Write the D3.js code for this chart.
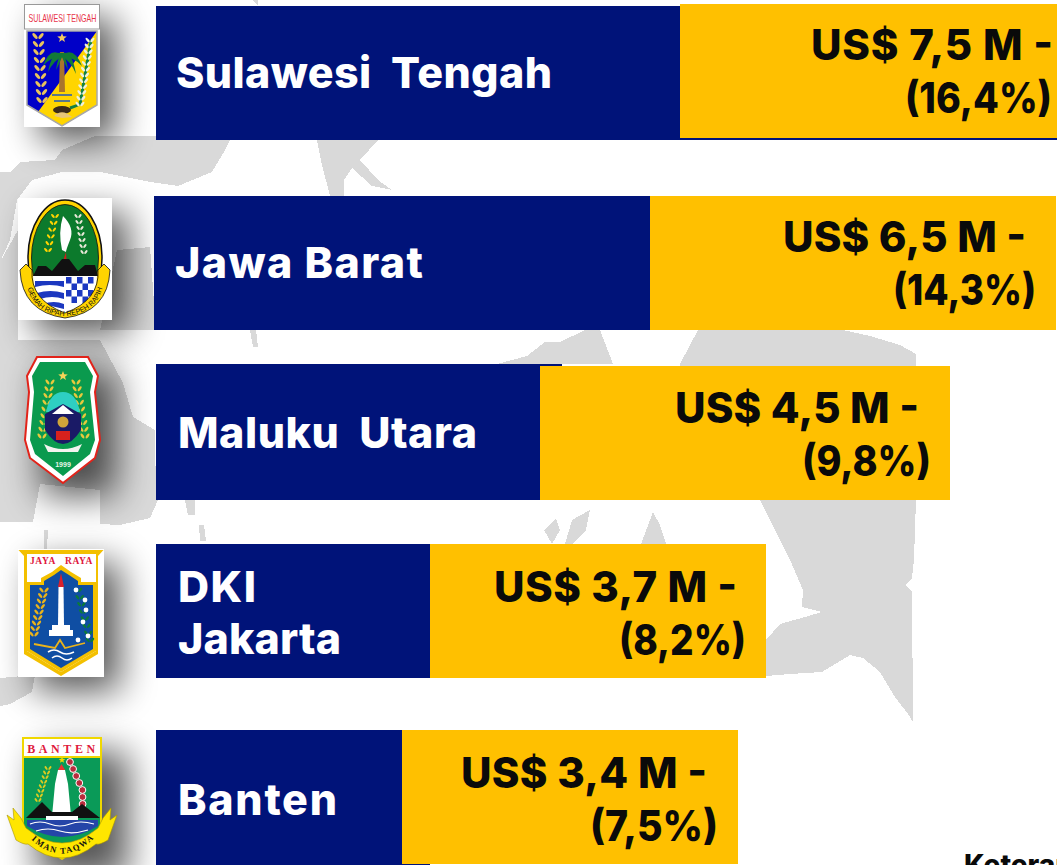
<!DOCTYPE html>
<html><head><meta charset="utf-8">
<script src="https://cdn.jsdelivr.net/npm/d3@7/dist/d3.min.js"></script>
<style>html,body{margin:0;padding:0;background:#fff;overflow:hidden}svg{display:block}
text{font-family:Inter,"Open Sans",sans-serif}</style></head><body>
<script>
// ---- data ----
const provinces = ["Sulawesi Tengah","Jawa Barat","Maluku Utara","DKI Jakarta","Banten"];
const labelLines = [["Sulawesi  Tengah"],["Jawa Barat"],["Maluku  Utara"],["DKI","Jakarta"],["Banten"]];
const usdMillion = [7.5,6.5,4.5,3.7,3.4];
const sharePercent = [16.4,14.3,9.8,8.2,7.5];
// bar extents (picture units from each bar's origin)
const navyLength = [901,500,406,274,274];
const goldStart = [524,496,384,274,246];
const goldEnd = [901,902,794,610,582];

// ---- layout ----
const W=1057,H=865;
const rowX = d3.scaleOrdinal(provinces,[156,154,156,156,156]);
const rowY = d3.scaleOrdinal(provinces,[6,196,364,544,730]);
const goldY = d3.scaleOrdinal(provinces,[4,196,366,544,730]);
const rowH = d3.scaleOrdinal(provinces,[134,134,136,134,135]);
const goldBottom = d3.scaleOrdinal(provinces,[138,330,500,678,864]);
const labelX = d3.scaleOrdinal(provinces,[176,175,178,178,178]);
const labelBase = d3.scaleOrdinal(provinces,[88,278,448,602,815]);
const labelFit = d3.scaleOrdinal(labelLines.flat(),[376,248,299,78,163,159]);
const valueBase = d3.scaleOrdinal(provinces,[60,252,423,602,788]);
const valueRight1 = d3.scaleOrdinal(provinces,[1053,1026,919,737,707]);
const valueRight2 = d3.scaleOrdinal(provinces,[1052,1036,931,746,718]);
const valueFit1 = d3.scaleOrdinal(provinces,[242,243,244,243,246]);
const valueFit2 = d3.scaleOrdinal(provinces,[147,143,129,127,128]);
const len = d3.scaleLinear().domain([0,901]).range([0,901]);
const fmt = d3.formatLocale({decimal:",",thousands:".",grouping:[3],currency:["",""]}).format(".1f");
const NAVY="#001379",GOLD="#ffc000",MAP="#d9d9d9";

const svg=d3.select("body").append("svg").attr("width",W).attr("height",H);
const defs=svg.append("defs");
const blur=defs.append("filter").attr("id","sh").attr("x","-80%").attr("y","-80%").attr("width","260%").attr("height","260%");
blur.append("feGaussianBlur").attr("stdDeviation",18);

// ---- background map ----
const poly=d3.line().curve(d3.curveLinearClosed);
const mapShapes=[
 [[698,330],[843,330],[870,336],[900,345],[916,354],[916,500],[914,560],[912,578],[906,585],[912,592],[913,722],[908,714],[895,697],[880,672],[863,658],[850,655],[822,672],[790,674],[755,677],[766,640],[780,624],[805,617],[822,612],[802,607],[803,590],[790,560],[775,530],[760,500],[680,500],[680,364]],
 [[497,364],[527,356],[545,342],[560,342],[585,330],[600,330],[613,364]],
 [[10,172],[20,162],[55,160],[62,150],[95,136],[232,136],[225,150],[212,172],[178,186],[150,182],[100,172],[62,172],[32,180],[17,200],[10,240],[0,262],[0,172]],
 [[117,250],[150,247],[156,330],[100,330]],
 [[0,262],[18,230],[18,340],[0,340]],
 [[0,340],[100,340],[123,383],[133,417],[155,430],[156,500],[140,510],[100,520],[100,490],[40,484],[33,522],[0,522]],
 [[100,500],[158,500],[150,518],[120,525],[100,524]],
 [[317,140],[378,140],[360,160],[378,180],[392,190],[372,186],[352,168],[344,180],[344,196],[330,196],[322,165]],
 [[565,544],[572,520],[590,510],[586,530],[572,544]],
 [[544,530],[556,518],[560,530],[552,544]],
 [[641,544],[653,512],[660,525],[666,544]],
 [[0,678],[35,675],[32,692],[10,704],[0,706]],
 [[252,0],[258,0],[258,5]],[[250,330],[256,330],[258,347],[253,347]],
 [[185,500],[195,500],[195,515],[188,515]],[[199,525],[204,525],[206,541],[200,541]],
 [[44,530],[48,530],[47,549],[44,549]]
];
svg.append("g").attr("shape-rendering","crispEdges").selectAll("path").data(mapShapes).join("path")
 .attr("d",d=>poly(d)).attr("fill",MAP);

// ---- logo shadows ----
const shadowBoxes=[[24,4,76,123],[18,198,94,122],[25,356,75,126],[18,549,86,128],[22,738,90,127]];
svg.append("g").selectAll("rect").data(shadowBoxes).join("rect")
 .attr("x",d=>d[0]+16).attr("y",d=>d[1]+14).attr("width",d=>d[2]).attr("height",d=>d[3])
 .attr("fill","#000").attr("opacity",.66).attr("filter","url(#sh)");

// ---- bars ----
const rows=provinces.map((p,i)=>({p,i}));
const g=svg.append("g").attr("shape-rendering","crispEdges");
g.selectAll("rect.navy").data(rows).join("rect").attr("class","navy")
 .attr("x",d=>rowX(d.p)).attr("y",d=>rowY(d.p)).attr("height",d=>rowH(d.p))
 .attr("width",d=>len(navyLength[d.i])).attr("fill",NAVY);
g.selectAll("rect.gold").data(rows).join("rect").attr("class","gold")
 .attr("x",d=>rowX(d.p)+len(goldStart[d.i])).attr("y",d=>goldY(d.p))
 .attr("height",d=>goldBottom(d.p)-goldY(d.p))
 .attr("width",d=>len(goldEnd[d.i]-goldStart[d.i])).attr("fill",GOLD);

// ---- labels ----
const FS=43;
svg.selectAll("g.lab").data(rows).join("g").attr("class","lab").each(function(d){
 d3.select(this).selectAll("text").data(labelLines[d.i]).join("text")
  .attr("x",labelX(d.p)).attr("y",(t,k)=>labelBase(d.p)+k*52)
  .attr("fill","#fff").attr("font-size",FS).attr("font-weight",800)
  .attr("textLength",t=>labelFit(t)).attr("lengthAdjust","spacing")
  .attr("xml:space","preserve").style("white-space","pre").text(t=>t);
});
svg.selectAll("text.v1").data(rows).join("text").attr("class","v1")
 .attr("x",d=>valueRight1(d.p)-valueFit1(d.p)).attr("y",d=>valueBase(d.p))
 .attr("font-size",FS-1).attr("font-weight",800).attr("fill","#0a0a0a")
 .attr("textLength",d=>valueFit1(d.p)).attr("lengthAdjust","spacing")
 .text(d=>`US$ ${fmt(usdMillion[d.i])} M -`);
svg.selectAll("text.v2").data(rows).join("text").attr("class","v2")
 .attr("x",d=>valueRight2(d.p)-valueFit2(d.p)).attr("y",d=>valueBase(d.p)+53)
 .attr("font-size",FS-1).attr("font-weight",800).attr("fill","#0a0a0a")
 .attr("textLength",d=>valueFit2(d.p)).attr("lengthAdjust","spacingAndGlyphs")
 .text(d=>`(${fmt(sharePercent[d.i])}%)`);
svg.append("text").attr("x",964).attr("y",875).attr("font-size",28).attr("font-weight",800).attr("fill","#0a0a0a").text("Keterangan");

// ---- emblems (drawn decoration) ----
function star(l,cx,cy,r,fill){
 const pts=d3.range(10).map(i=>{const a=-Math.PI/2+i*Math.PI/5,q=i%2?r*.42:r;return [cx+q*Math.cos(a),cy+q*Math.sin(a)];});
 l.append("path").attr("d",poly(pts)).attr("fill",fill);
}
const P=(l,d,f,s,w)=>l.append("path").attr("d",d).attr("fill",f||"none").attr("stroke",s||"none").attr("stroke-width",w||0);
const T=(l,x,y,t,fs,f,o={})=>{const e=l.append("text").attr("x",x).attr("y",y).attr("text-anchor",o.a||"middle").attr("font-size",fs).attr("fill",f)
 .attr("font-weight",o.w||700).attr("letter-spacing",o.ls||0).style("font-family",o.ff||"'Liberation Sans',sans-serif").text(t);
 if(o.fit) e.attr("textLength",o.fit).attr("lengthAdjust","spacingAndGlyphs");return e;};
function leaves(l,x0,y0,x1,y1,n,f,size,tilt){
 d3.range(n).forEach(i=>{const t=i/(n-1),x=x0+(x1-x0)*t,y=y0+(y1-y0)*t;
  [-1,1].forEach(s=>l.append("ellipse").attr("cx",x+s*size*.6).attr("cy",y).attr("rx",size*.7).attr("ry",size*.32)
   .attr("transform",`rotate(${s*(tilt||-45)} ${x+s*size*.6} ${y})`).attr("fill",f));});
}
const E=svg.append("g");

// Sulawesi Tengah
{const l=E.append("g");
 l.append("rect").attr("x",24).attr("y",4).attr("width",76).attr("height",123).attr("fill","#fff");
 l.append("rect").attr("x",24.5).attr("y",4.5).attr("width",75).attr("height",24.5).attr("fill","#fff").attr("stroke","#999");
 T(l,62.5,22,"SULAWESI TENGAH",11,"#e8344a",{w:400,fit:68});
 const sh="M27 31H97V105L62 126L27 105Z";
 P(l,sh,"#0000c8");
 P(l,"M97 31V105L62 126L38 112L97 31Z","#ffd500");
 P(l,sh,"none","#a8a8a8",1.5);
 star(l,62,38,5,"#f3c760");
 P(l,"M60 52H64L65 92H59Z","#a9752c");
 ["M62 55Q50 46 43 66Q50 57 62 57Z","M62 53Q52 50 48 72Q54 60 62 57Z","M62 55Q74 46 82 66Q74 57 62 57Z","M62 53Q72 50 76 74Q70 60 62 57Z","M62 53Q58 56 56 70Q60 62 62 57Z","M62 53Q66 56 68 70Q64 62 62 57Z"]
  .forEach(d=>P(l,d,"#127a37"));
 leaves(l,38,36,42,100,9,"#e8c25c",5,-50);
 P(l,"M91 40L80 104Q76 106 70 108","none","#128045",3);
 leaves(l,90,40,80,104,12,"#eef0e0",4,-50);
 P(l,"M52 95h20M54 101h16","none","#2458b8",1.6);
 l.append("ellipse").attr("cx",62).attr("cy",110).attr("rx",9).attr("ry",4).attr("fill","#3a2a1a");
 P(l,"M54 116Q62 108 72 117L62 118Z","#e7c579");
}
// Jawa Barat
{const l=E.append("g");
 l.append("rect").attr("x",18).attr("y",198).attr("width",94).attr("height",122).attr("fill","#fff");
 l.append("ellipse").attr("cx",65).attr("cy",258).attr("rx",37).attr("ry",58).attr("fill","#ffd400").attr("stroke","#111").attr("stroke-width",1.5);
 l.append("ellipse").attr("cx",65).attr("cy",258).attr("rx",33.5).attr("ry",53.5).attr("fill","#0c7a2c").attr("stroke","#111").attr("stroke-width",.8);
 leaves(l,55,216,48,250,6,"#ffd400",3.5,-50);
 leaves(l,78,216,84,252,7,"#e8e8d8",3.2,-50);
 P(l,"M63 216Q75 228 70 240Q66 250 66 252L62 250Q58 232 63 216Z","#fff");
 P(l,"M64 258L66 252L67 268H63Z","#c8201c");
 P(l,"M33 276L38 266H46L52 271L62 259H69L78 271L85 265H95L98 276Z","#111");
 P(l,"M33 276H97C97 294 84 310 65 314C46 310 33 294 33 276Z","#fff");
 P(l,"M35 281H64V287Q50 283 35 287ZM37 293Q50 289 64 293V299Q52 295 40 299ZM43 304Q54 300 64 304V309Z","#1c38c0");
 d3.range(4).forEach(r=>d3.range(5).forEach(c=>{if((r+c)%2==0) l.append("rect").attr("x",66+c*5.5).attr("y",277+r*6.5).attr("width",5.5).attr("height",6.5).attr("fill","#1c38c0");}));
 P(l,"M20 270L26 264L32 270Q30 300 65 313Q100 300 98 270L104 264L110 270Q108 312 65 318Q22 312 20 270Z","#ffd400","#111",.8);
 defs.append("path").attr("id","jb").attr("d","M25 274Q28 314 65 316Q102 314 105 274");
 l.append("text").attr("font-size",7.2).attr("fill","#111").style("font-family","'Liberation Sans',sans-serif")
  .append("textPath").attr("href","#jb").attr("startOffset","50%").attr("text-anchor","middle").text("GEMAH RIPAH REPEH RAPIH");
}
// Maluku Utara
{const l=E.append("g");
 P(l,"M37 357H88L98 376L95 392L100 440L95 458L63 483L30 458L25 440L29 392L27 376Z","#fff","#e2231a",2);
 P(l,"M40 362H85L93 376L90 392L95 440L90 454L63 476L35 454L30 440L34 392L32 376Z","#0a9a4e");
 star(l,63,376,5,"#f3d458");
 leaves(l,50,382,42,436,9,"#e8c93c",4.2,-55);
 leaves(l,76,382,85,436,9,"#e8c93c",4.2,-55);
 P(l,"M46 412Q50 392 63 392Q76 392 80 412Z","#2ecfc2");
 P(l,"M45 414L63 404L81 414V430Q72 444 63 444Q54 444 45 430Z","#1a1a66");
 P(l,"M52 414L63 405L74 414Z","#fff");
 l.append("circle").attr("cx",63).attr("cy",422).attr("r",5.5).attr("fill","#cfa53a");
 l.append("rect").attr("x",56).attr("y",431).attr("width",14).attr("height",9).attr("fill","#d8211d");
 P(l,"M44 444Q63 454 82 444L78 452H48Z","#f4f4ef");
 T(l,63,467,"1999",7,"#e8f5e8");
}
// DKI Jakarta
{const l=E.append("g");
 l.append("rect").attr("x",18).attr("y",549).attr("width",86).attr("height",128).attr("fill","#fff");
 P(l,"M18.5 550H103.5L98 556V654L61 676L24 654V556Z","#f3c000");
 P(l,"M27 554H96V651L61 672L27 651Z","#fff");
 P(l,"M27 582H41V578L52 572L61 565L71 572L81 578V582H96V651L61 672L27 651Z","#f3c000");
 P(l,"M30 585H44V581L54 575L61 570L69 575L78 581V585H93V649L61 668L30 649Z","#0f4ea3");
 T(l,43,564,"JAYA",9.5,"#e0163c",{ff:"'Liberation Serif',serif",ls:.6});
 T(l,79,564,"RAYA",9.5,"#e0163c",{ff:"'Liberation Serif',serif",ls:.6});
 P(l,"M61 573L64 587H58Z","#d8202c");
 P(l,"M58.5 587H63.5L64 625H58Z","#fff");
 P(l,"M52 625H70V630H73V636H49V630H52Z","#fff");
 leaves(l,44,590,34,634,9,"#eab31a",4.2,-50);
 leaves(l,78,590,90,640,8,"#0c7a3a",3.8,-50);
 [[76,590],[85,600],[86,610],[83,622],[78,640],[88,636]].forEach(([x,y])=>l.append("circle").attr("cx",x).attr("cy",y).attr("r",2.4).attr("fill","#fff"));
 P(l,"M34 644L55 648L60 640L65 648L85 643","none","#eab31a",1.8);
 P(l,"M48 652Q54 648 60 652T74 652M52 658Q57 654 62 658T72 658","none","#fff",1.6);
}
// Banten
{const l=E.append("g");
 P(l,"M22 737H102V835L62 860L22 835Z","#f0d800");
 P(l,"M24 739H100V833L62 857L24 833Z","#0a9a58");
 l.append("rect").attr("x",24).attr("y",739).attr("width",76).attr("height",17.5).attr("fill","#fff");
 P(l,"M22 757H102","none","#f0d800",2);
 T(l,63,752.5,"BANTEN",12,"#e01a3c",{ff:"'Liberation Serif',serif",ls:3.6});
 star(l,62,760,3.5,"#f0d800");
 P(l,"M55 784L58 770H65L68 784L71 816H52Z","#fff");
 P(l,"M58 770L61.5 764L65 770Z","#e33");
 leaves(l,48,768,38,800,8,"#dccb20",3.2,-55);
 l.selectAll(null).data(d3.range(7)).join("circle")
  .attr("cx",i=>70+i*3.1-(i>4?(i-4)*3:0)).attr("cy",i=>762+i*7).attr("r",3.4).attr("fill","#b82c3c").attr("stroke","#fff").attr("stroke-width",1);
 P(l,"M26 818L42 802L52 812H72L82 804L100 818Z","#111");
 P(l,"M46 816H78V820H46Z","#fff");
 P(l,"M27 820H98V826Q62 848 27 826Z","#2545a8");
 P(l,"M30 824Q40 820 50 824T70 824T94 824M36 831Q48 827 60 831T88 830","none","#fff",1.2);
 P(l,"M32 832Q62 856 92 832L90 842Q62 860 34 842Z","#8b8e7a");
 P(l,"M7 815L14 820L13 808L21 818L26 828Q62 858 98 828L103 818L111 808L110 820L117 815L108 840Q100 845 96 844Q62 872 28 844Q24 845 16 840Z","#ffe600","#a89600",.6);
 defs.append("path").attr("id","bt").attr("d","M24 832Q62 876 102 830");
 l.append("text").attr("font-size",8.6).attr("font-weight",700).attr("letter-spacing",1.4).attr("fill","#111").style("font-family","'Liberation Serif',serif")
  .append("textPath").attr("href","#bt").attr("startOffset","50%").attr("text-anchor","middle").text("IMAN TAQWA");
}
</script></body></html>
